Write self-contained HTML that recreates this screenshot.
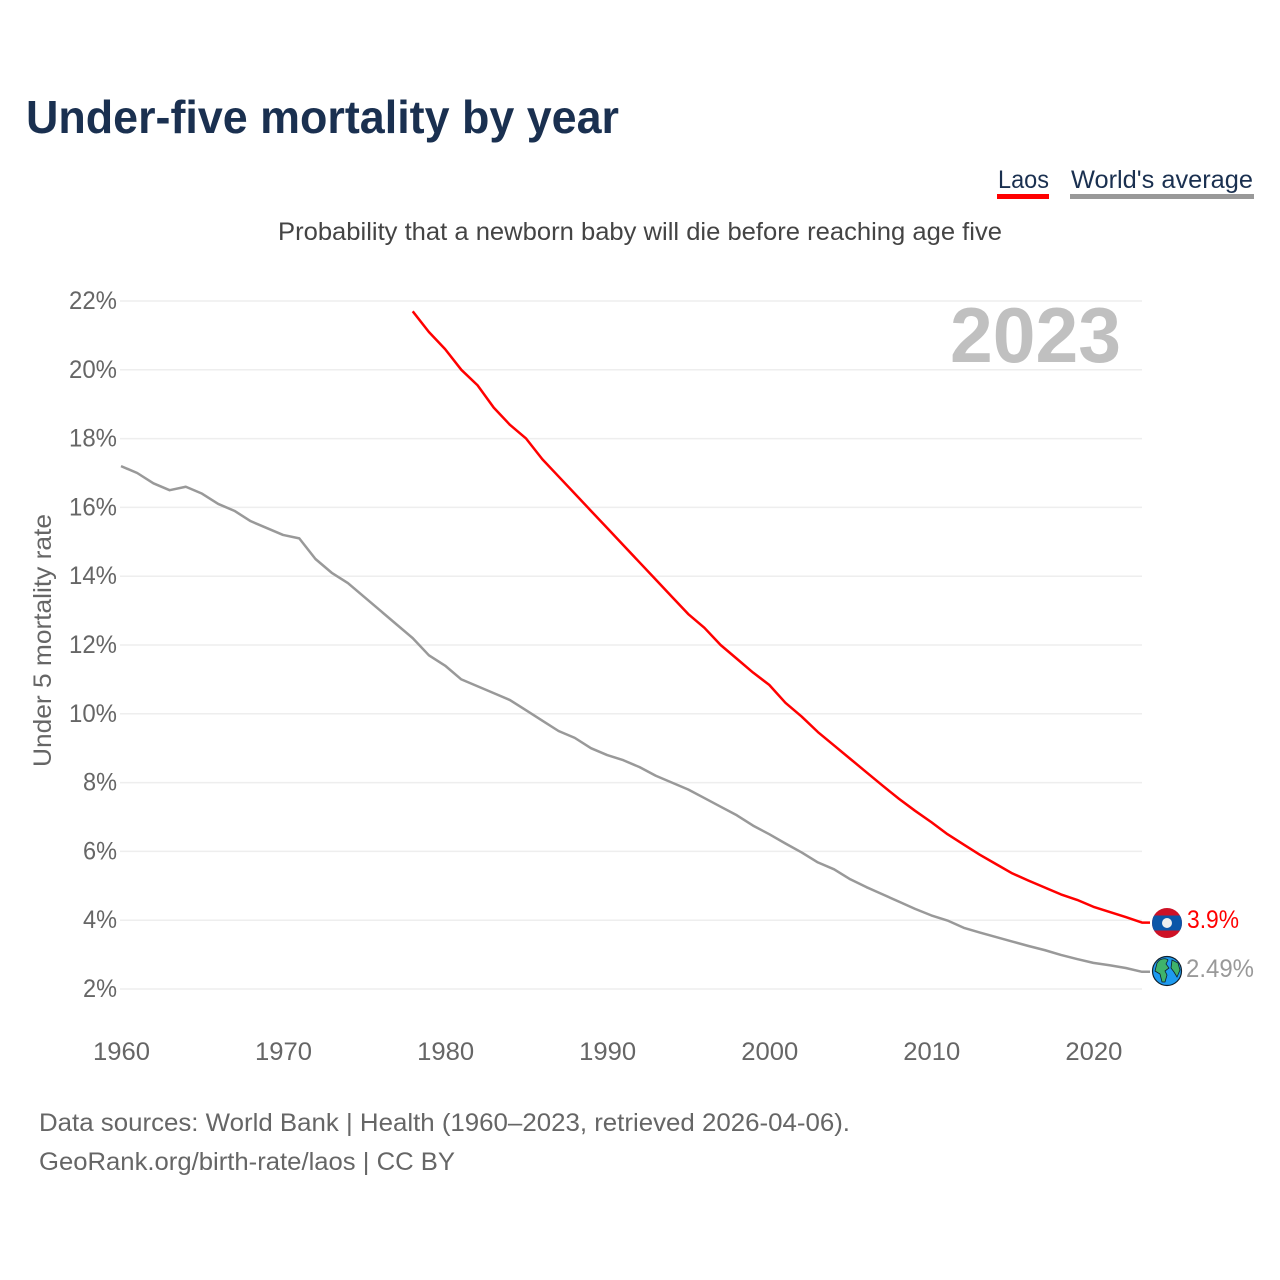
<!DOCTYPE html>
<html lang="en">
<head>
<meta charset="utf-8">
<title>Under-five mortality by year</title>
<style>
html,body{margin:0;padding:0;background:#fff;width:1280px;height:1280px;overflow:hidden}
svg{display:block}
text{font-family:"Liberation Sans",sans-serif}
</style>
</head>
<body>
<svg id="chart" width="1280" height="1280" viewBox="0 0 1280 1280" xmlns="http://www.w3.org/2000/svg">
  <rect width="1280" height="1280" fill="#fff"/>
  <text x="26" y="133" font-size="46" font-weight="700" fill="#1a3050" textLength="593" lengthAdjust="spacingAndGlyphs">Under-five mortality by year</text>
  <g>
    <text x="998" y="188" font-size="25" fill="#1a3050" textLength="51" lengthAdjust="spacingAndGlyphs">Laos</text>
    <rect x="997" y="194" width="52" height="5" fill="#ff0000"/>
  </g>
  <g>
    <text x="1071" y="188" font-size="25" fill="#1a3050" textLength="182" lengthAdjust="spacingAndGlyphs">World's average</text>
    <rect x="1070" y="194" width="184" height="5" fill="#999999"/>
  </g>
  <text x="278" y="240" font-size="25" fill="#444444" textLength="724" lengthAdjust="spacingAndGlyphs">Probability that a newborn baby will die before reaching age five</text>
  <g id="grid"></g>
  <g id="yticks"></g>
  <g id="xticks"></g>
  <text transform="translate(51,767) rotate(-90)" font-size="25" fill="#666666" textLength="253" lengthAdjust="spacingAndGlyphs">Under 5 mortality rate</text>
  <text x="950" y="362" font-size="78" font-weight="700" fill="#c0c0c0" textLength="171" lengthAdjust="spacingAndGlyphs">2023</text>
  <path id="line-world" fill="none" stroke="#999999" stroke-width="2.5" stroke-linejoin="round"/>
  <path id="line-laos" fill="none" stroke="#ff0000" stroke-width="2.5" stroke-linejoin="round"/>
  <g id="end-laos">
    <defs><clipPath id="flag-clip"><circle cx="1167" cy="923" r="15"/></clipPath></defs>
    <g clip-path="url(#flag-clip)">
      <rect x="1152" y="908" width="30" height="30" fill="#ce1126"/>
      <rect x="1152" y="915.5" width="30" height="15" fill="#0b56a8"/>
      <circle cx="1167" cy="923" r="5" fill="#eeeeee"/>
    </g>
    <text id="label-laos" x="1187" y="928" font-size="25" fill="#ff0000" textLength="52" lengthAdjust="spacingAndGlyphs">3.9%</text>
  </g>
  <g id="end-world">
    <g>
      <circle cx="1167" cy="971" r="14.5" fill="#1e9bf0" stroke="#10202c" stroke-width="1.2"/>
      <path d="M1157 963 C1160 958 1166 958 1168 960 L1166 964 L1169 968 L1165 971 L1167 975 L1165 982 L1162 982 L1160 974 L1155 971 Z" fill="#3fb36b" stroke="#10202c" stroke-width=".8"/>
      <path d="M1172 960 L1178 963 L1180 970 L1177 977 L1174 972 L1171 968 Z" fill="#3fb36b" stroke="#10202c" stroke-width=".8"/>
    </g>
    <text id="label-world" x="1186" y="977" font-size="25" fill="#999999" textLength="68" lengthAdjust="spacingAndGlyphs">2.49%</text>
  </g>
  <text x="39" y="1131" font-size="25" fill="#666666" textLength="811" lengthAdjust="spacingAndGlyphs">Data sources: World Bank | Health (1960–2023, retrieved 2026-04-06).</text>
  <text x="39" y="1170" font-size="25" fill="#666666" textLength="416" lengthAdjust="spacingAndGlyphs">GeoRank.org/birth-rate/laos | CC BY</text>
</svg>
<script>
const yTicks = [2, 4, 6, 8, 10, 12, 14, 16, 18, 20, 22];
const xTicks = [1960, 1970, 1980, 1990, 2000, 2010, 2020];
const worldStartYear = 1960;
const worldValues = [17.2, 17.0, 16.7, 16.5, 16.6, 16.4, 16.1, 15.9, 15.6, 15.4, 15.2, 15.1, 14.5, 14.1, 13.8, 13.4, 13.0, 12.6, 12.2, 11.7, 11.4, 11.0, 10.8, 10.6, 10.4, 10.1, 9.8, 9.5, 9.3, 9.0, 8.8, 8.65, 8.45, 8.2, 8.0, 7.8, 7.55, 7.3, 7.05, 6.75, 6.5, 6.23, 5.97, 5.68, 5.48, 5.19, 4.96, 4.75, 4.54, 4.33, 4.14, 3.99, 3.78, 3.64, 3.51, 3.38, 3.25, 3.13, 2.99, 2.87, 2.76, 2.69, 2.61, 2.5];
const laosStartYear = 1978;
const laosValues = [21.7, 21.1, 20.6, 20.0, 19.55, 18.9, 18.4, 18.0, 17.4, 16.9, 16.4, 15.9, 15.4, 14.9, 14.4, 13.9, 13.4, 12.9, 12.5, 12.0, 11.6, 11.2, 10.84, 10.32, 9.92, 9.47, 9.08, 8.69, 8.3, 7.91, 7.53, 7.18, 6.85, 6.5, 6.2, 5.9, 5.63, 5.36, 5.15, 4.95, 4.75, 4.59, 4.39, 4.24, 4.09, 3.93];

const NS = 'http://www.w3.org/2000/svg';
const connectorEndX = 1150;
function xScale(year) { return 121 + (year - 1960) * 16.206; }
function yScale(value) { return 989 - (value - 2) * 34.4; }
function linePath(startYear, values) {
  const body = values.map(function (v, i) {
    return (i ? 'L' : 'M') + xScale(startYear + i).toFixed(2) + ' ' + yScale(v).toFixed(2);
  }).join(' ');
  return body + ' L' + connectorEndX + ' ' + yScale(values[values.length - 1]).toFixed(2);
}

const grid = document.getElementById('grid');
const yGroup = document.getElementById('yticks');
const xGroup = document.getElementById('xticks');

yTicks.forEach(function (t) {
  const line = document.createElementNS(NS, 'line');
  
  
  line.setAttribute('x1', 120);
  line.setAttribute('x2', 1142);
  line.setAttribute('y1', yScale(t));
  line.setAttribute('y2', yScale(t));
  line.setAttribute('stroke', '#eeeeee');
  line.setAttribute('stroke-width', '1.5');
  grid.appendChild(line);

  const label = document.createElementNS(NS, 'text');
  
  
  label.setAttribute('x', 117);
  label.setAttribute('y', yScale(t) + 8);
  label.setAttribute('text-anchor', 'end');
  label.setAttribute('font-size', '25');
  label.setAttribute('fill', '#666666');
  label.setAttribute('textLength', String(t).length === 1 ? 34 : 48);
  label.setAttribute('lengthAdjust', 'spacingAndGlyphs');
  label.textContent = t + '%';
  yGroup.appendChild(label);
});

xTicks.forEach(function (t) {
  const label = document.createElementNS(NS, 'text');
  
  
  label.setAttribute('x', xScale(t) + 0.5);
  label.setAttribute('y', 1060);
  label.setAttribute('text-anchor', 'middle');
  label.setAttribute('font-size', '25');
  label.setAttribute('fill', '#666666');
  label.setAttribute('textLength', '57');
  label.setAttribute('lengthAdjust', 'spacingAndGlyphs');
  label.textContent = t;
  xGroup.appendChild(label);
});

document.getElementById('line-world').setAttribute('d', linePath(worldStartYear, worldValues));
document.getElementById('line-laos').setAttribute('d', linePath(laosStartYear, laosValues));
</script>
</body>
</html>
